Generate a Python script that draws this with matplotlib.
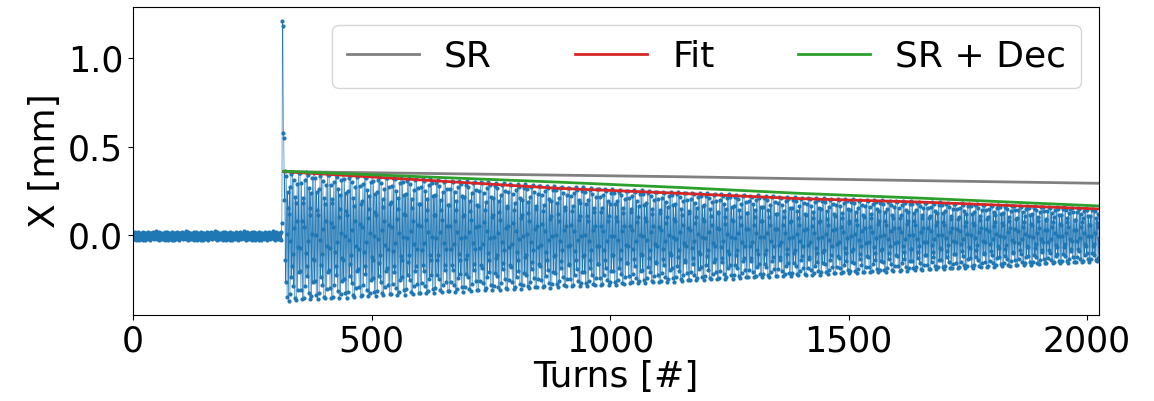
import numpy as np
import matplotlib
matplotlib.use("Agg")
import matplotlib.pyplot as plt

# --- data (mm vs turn number) ---
n_turns = 2026
kick_turn = 312

# baseline jitter before the kick (pattern, repeated)
pre_noise = [-0.008, 0.013, -0.021, 0.005, -0.014, 0.017, -0.026, 0.002,
             0.010, -0.019, 0.020, -0.008, -0.024, 0.009, 0.015, -0.015,
             0.004, -0.022, 0.011, -0.004, 0.018, -0.025, 0.008, -0.011,
             0.013, -0.028, 0.001, 0.016, -0.016, 0.010, -0.023, 0.006,
             0.021, -0.012, -0.003, 0.012, -0.027, 0.014, -0.006, 0.008,
             -0.017, 0.003, 0.019, -0.009, -0.020, 0.007, -0.002, 0.015,
             -0.013, 0.022, -0.007, -0.018, 0.011, 0.000, -0.024, 0.017,
             0.005, -0.010, 0.012, -0.021, 0.009]

# kicker turns
spike = [0.07, 1.21, 1.18, 0.58, 0.55, 0.20]

# oscillation envelope after the kick
env_turns = [318, 500, 750, 1000, 1250, 1500, 1750, 2025]
env_upper = [0.365, 0.335, 0.300, 0.262, 0.232, 0.205, 0.180, 0.150]
env_lower = [-0.370, -0.345, -0.310, -0.280, -0.245, -0.215, -0.185, -0.145]
tune = 0.3115

# model curves
model_turns = [316, 897, 1149, 1400, 1652, 2025]
sr = [0.360, 0.340, 0.331, 0.320, 0.309, 0.294]
fit = [0.360, 0.265, 0.237, 0.207, 0.188, 0.149]
sr_dec = [0.362, 0.300, 0.270, 0.237, 0.210, 0.166]

# --- build the turn-by-turn trace ---
turns = np.arange(n_turns)
x = np.zeros(n_turns)
x[:kick_turn] = np.resize(pre_noise, kick_turn)
x[kick_turn:kick_turn + len(spike)] = spike
start = kick_turn + len(spike)
t = turns[start:]
up = np.interp(t, env_turns, env_upper)
lo = np.interp(t, env_turns, env_lower)
x[start:] = (up + lo) / 2 + (up - lo) / 2 * np.cos(2 * np.pi * tune * (t - start))

fig, ax = plt.subplots(figsize=(11.54, 4.01), dpi=100)
fig.subplots_adjust(left=0.1153, right=0.9523, top=0.9825, bottom=0.2145)

ax.plot(turns, x, '.-', color='tab:blue', lw=0.45, ms=4)
ax.plot(model_turns, sr, color='grey', lw=2, label='SR')
ax.plot(model_turns, fit, color='tab:red', lw=2, label='Fit')
ax.plot(model_turns, sr_dec, color='tab:green', lw=2, label='SR + Dec')

ax.set_xlim(0, 2025)
ax.set_ylim(-0.45, 1.29)
ax.set_xticks([0, 500, 1000, 1500, 2000])
ax.set_yticks([0.0, 0.5, 1.0])
ax.tick_params(labelsize=25)
ax.set_xlabel('Turns [#]', fontsize=26, labelpad=1)
ax.set_ylabel('X [mm]', fontsize=26)
ax.legend(loc='upper right', ncol=3, fontsize=26, handlelength=2.0,
          handletextpad=0.7, columnspacing=2.3)

fig.savefig('out.png', dpi=100)
